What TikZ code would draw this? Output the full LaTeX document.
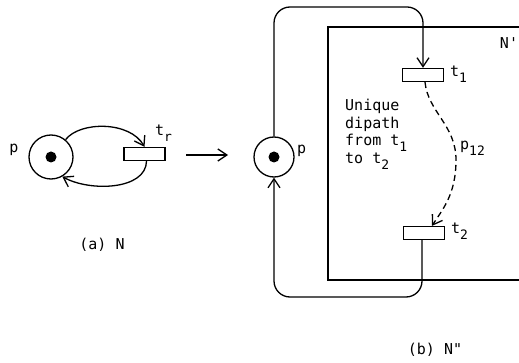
\documentclass[tikz,border=0pt]{standalone}
\usepackage{fontspec}
\newfontfamily\mono{DejaVu Sans Mono}
\usetikzlibrary{arrows.meta,calc}
\newcommand\sbs[1]{\raisebox{-6pt}{\fontsize{13}{13}\selectfont #1}}
\tikzset{
  every node/.style={font=\mono\fontsize{15}{17.5}\selectfont, inner sep=0pt},
  place/.style={draw, circle, line width=1.3pt, minimum size=#1},
  token/.style={fill, circle, minimum size=11pt},
  trans/.style={draw, rectangle, line width=1.3pt, minimum width=41pt, minimum height=13pt},
  arc/.style={line width=1.3pt, -{Straight Barb[length=9pt,width=12pt,line width=1.3pt]}},
  plain/.style={line width=1.3pt},
  lbl/.style={anchor=west}
}
\begin{document}
\begin{tikzpicture}[x=1pt,y=-1pt]
\useasboundingbox (0,0) rectangle (519,363);
% ---------- (a) N ----------
\node[place=44pt] (pa) at (51,157) {};
\node[token] (ta) at (pa) {};
\node (pal) at (14,150) {p};
\node[trans] (tr) at (144.5,154) {};
\node[lbl] (trl) at (155,133) {t\sbs{r}};
\draw[arc] (pa.50) .. controls (80,121) and (130,121) .. (tr.north);
\draw[arc] ($(tr.south)+(2,0)$) .. controls (146,190) and (90,192) .. (pa.-60);
\node (capa) at (102,245) {(a) N};
% transformation arrow
\coordinate (ma) at (186,155);
\coordinate (mb) at (228,155);
\draw[arc] (ma) -- (mb);
% ---------- (b) N'' ----------
\node[place=40pt] (pb) at (274,157) {};
\node[token] (tb) at (pb) {};
\node[lbl] (pbl) at (297,151) {p};
% subnet box N'
\coordinate (b1) at (519,27);
\coordinate (b2) at (328,27);
\coordinate (b3) at (328,280);
\coordinate (b4) at (519,280);
\draw[plain] (b1) -- (b2) -- (b3) -- (b4);
\node (nl) at (509,43) {N'};
\node[trans] (t1) at (423,75) {};
\node[lbl] (t1l) at (450,74) {t\sbs{1}};
\node[trans] (t2) at (424,233) {};
\node[lbl] (t2l) at (451,231) {t\sbs{2}};
\node[anchor=north west, align=left] (txt) at (345,99) {Unique\\dipath\\from t\sbs{1}\\to t\sbs{2}};
\node[lbl] (p12) at (460,148) {p\sbs{12}};
% loops
\coordinate (top) at (350,7);
\coordinate (bot) at (350,297);
\draw[arc, rounded corners=16pt] (pb.north) |- (top) -| (t1.north);
\draw[arc, rounded corners=16pt] ($(t2.south)+(-2,0)$) |- (bot) -| (pb.south);
% dashed dipath
\draw[arc, dashed, dash pattern=on 6pt off 4pt] ($(t1.south)+(2,0)$) .. controls (428,112) and (456,125) .. (456,160)
  .. controls (456,195) and (442,210) .. ($(t2.north)+(8,0)$);
\node (capb) at (435,350) {(b) N"};
\end{tikzpicture}
\end{document}
